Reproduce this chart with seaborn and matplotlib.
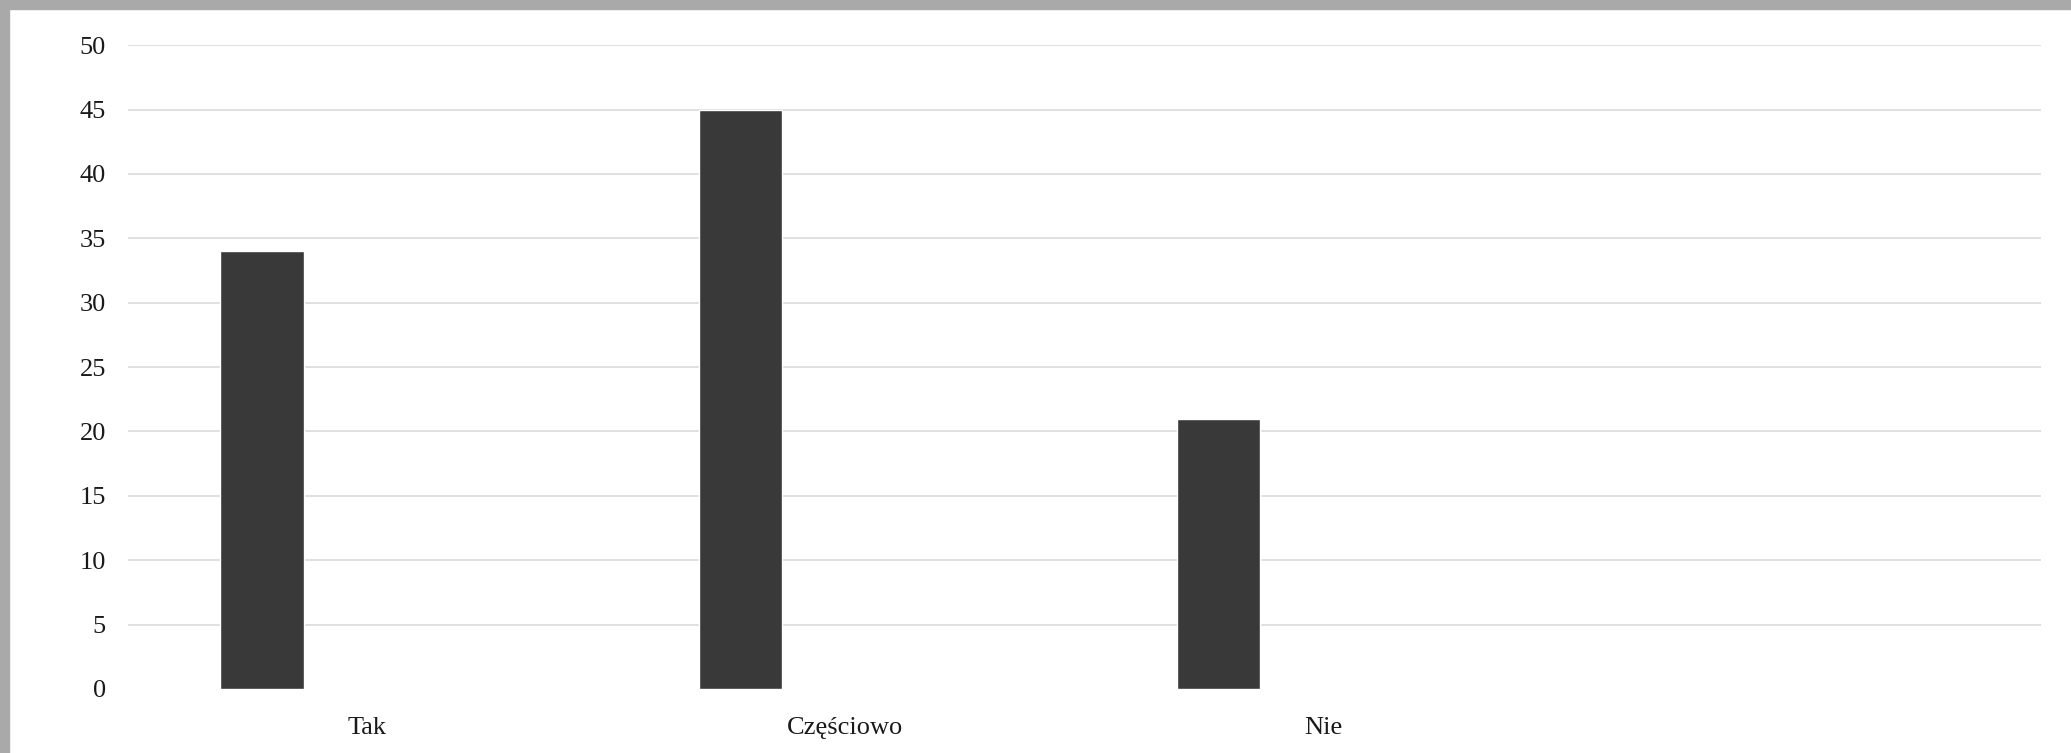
import numpy as np
import matplotlib.pyplot as plt
import seaborn as sns
from matplotlib.patches import Rectangle

# dane z wykresu
kategorie = ["Tak", "Częściowo", "Nie", ""]
wartosci = [34, 45, 21, np.nan]
y_ticks = list(range(0, 55, 5))

sns.set_theme(style="white")
plt.rcParams['font.family'] = ['Liberation Serif', 'DejaVu Serif']

fig = plt.figure(figsize=(20.71, 7.53), dpi=100)
ax = fig.add_axes([0.0618, 0.085, 0.9237, 0.855])

sns.barplot(x=kategorie, y=wartosci, color="#393939", saturation=1,
            width=0.174, ax=ax, zorder=3)

ax.set_xlim(-0.28, 3.72)
ax.set_ylim(0, 50)
ax.set_yticks(y_ticks)
ax.set_yticklabels([str(t) for t in y_ticks], fontsize=19, color="#1a1a1a")

# etykiety kategorii przesunięte na środek grupy
ax.set_xticks(np.arange(len(kategorie)) + 0.22)
ax.set_xticklabels(kategorie, fontsize=19, color="#1a1a1a")

ax.tick_params(axis="y", length=0, pad=16)
ax.tick_params(axis="x", length=0, pad=20)

for t in y_ticks[1:]:
    ax.axhline(t, color="#dadada", lw=1.2, zorder=1)

for s in ax.spines.values():
    s.set_visible(False)

ax.set_xlabel("")
ax.set_ylabel("")

# szara ramka (góra i lewa krawędź)
fig.patches.append(Rectangle((0, 1 - 9 / 753), 1, 9 / 753, transform=fig.transFigure,
                             color="#a9a9a9", zorder=0))
fig.patches.append(Rectangle((0, 0), 9 / 2071, 1, transform=fig.transFigure,
                             color="#a9a9a9", zorder=0))

plt.savefig("out.png", dpi=100)
